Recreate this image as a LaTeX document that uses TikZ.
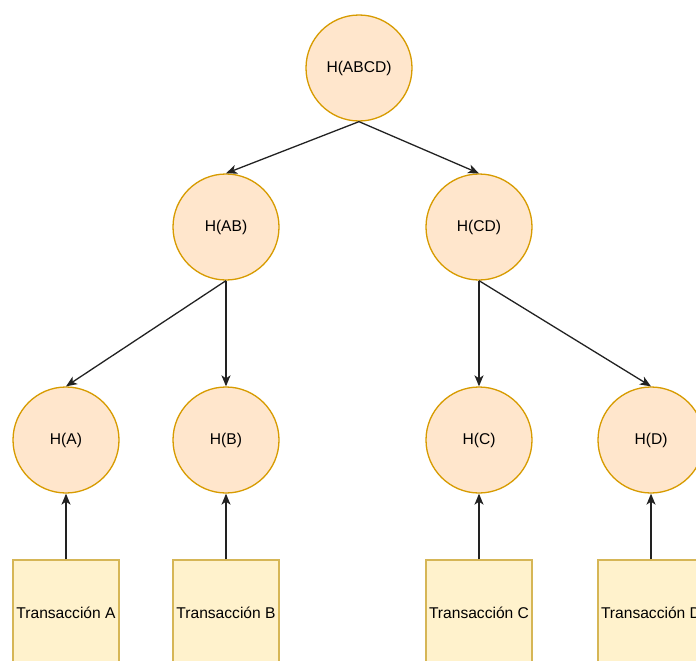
\documentclass[tikz,border=0pt]{standalone}
\usepackage{fontspec}
\setmainfont{Liberation Sans}
\usetikzlibrary{arrows.meta}
\definecolor{hashfill}{HTML}{FFE6CC}
\definecolor{hashline}{HTML}{D79B00}
\definecolor{txfill}{HTML}{FFF2CC}
\definecolor{txline}{HTML}{D6B656}
\definecolor{edge}{HTML}{222222}
\tikzset{
  hashnode/.style={circle, draw=hashline, fill=hashfill, line width=1.3pt,
    minimum size=106pt, inner sep=0pt, font=\fontsize{15.6pt}{18pt}\selectfont},
  txnode/.style={rectangle, draw=txline, fill=txfill, line width=1.3pt,
    minimum width=106pt, minimum height=106pt, inner sep=0pt,
    font=\fontsize{15.6pt}{18pt}\selectfont},
  link/.style={draw=edge, line width=1.3pt,
    -{Stealth[length=11pt, width=9pt, inset=3pt]}}
}
\begin{document}
\begin{tikzpicture}[x=1pt, y=-1pt]
  \useasboundingbox (0,0) rectangle (696,661);
  \clip (0,0) rectangle (696,661);
  % hash tree
  \node[hashnode] (abcd) at (359,68) {H(ABCD)};
  \node[hashnode] (ab) at (226,227) {H(AB)};
  \node[hashnode] (cd) at (479,227) {H(CD)};
  \node[hashnode] (a) at (66,440) {H(A)};
  \node[hashnode] (b) at (226,440) {H(B)};
  \node[hashnode] (c) at (479,440) {H(C)};
  \node[hashnode] (d) at (651,440) {H(D)};
  % transactions at the leaves
  \node[txnode] (ta) at (66,613) {Transacción A};
  \node[txnode] (tb) at (226,613) {Transacción B};
  \node[txnode] (tc) at (479,613) {Transacción C};
  \node[txnode] (td) at (651,613) {Transacción D};
  % parent to child edges
  \draw[link] (abcd.south) -- (ab.north);
  \draw[link] (abcd.south) -- (cd.north);
  \draw[link] (ab.south) -- (a.north);
  \draw[link] (ab.south) -- (b.north);
  \draw[link] (cd.south) -- (c.north);
  \draw[link] (cd.south) -- (d.north);
  % transaction to leaf hash
  \draw[link] (ta.north) -- (a.south);
  \draw[link] (tb.north) -- (b.south);
  \draw[link] (tc.north) -- (c.south);
  \draw[link] (td.north) -- (d.south);
\end{tikzpicture}
\end{document}
